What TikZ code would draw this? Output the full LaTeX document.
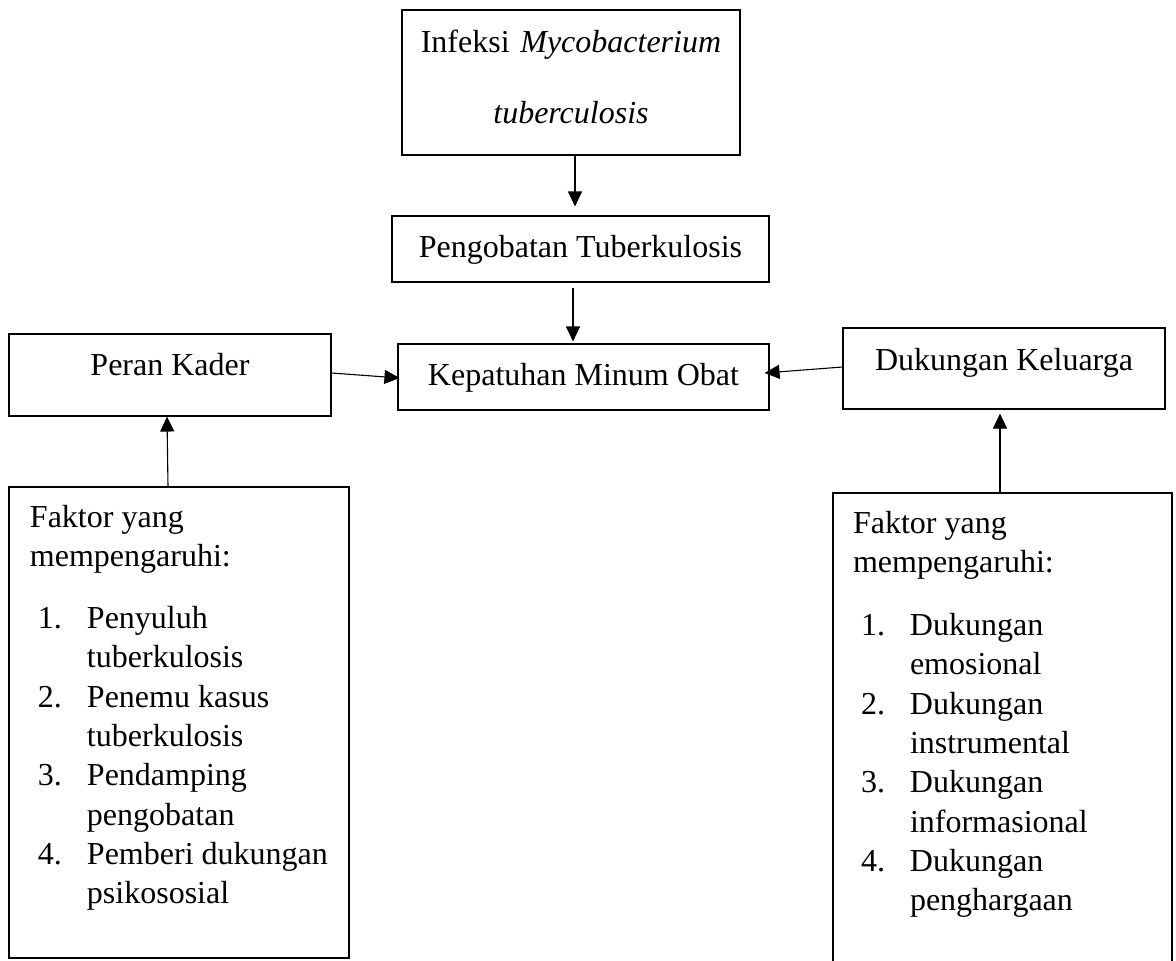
\documentclass[tikz,border=0pt]{standalone}
\usepackage{fontspec}
\setmainfont{Liberation Serif}
\usetikzlibrary{arrows.meta}

\newcommand{\butir}[3]{\hspace*{8pt}\makebox[49pt][l]{#1}\mbox{#2}\\\hspace*{57pt}\mbox{#3}}

\begin{document}
\begin{tikzpicture}
    [
    x = 1pt, y = -1pt,
    every node/.style = {font=\fontsize{32}{39.3}\selectfont},
    kotak/.style      = {rectangle, draw, line width=1.1pt, inner sep=0pt},
    daftar/.style     = {kotak, align=flush left, inner xsep=21pt, text width=298pt},
    panah/.style      = {-{Triangle[length=15pt,width=14pt]}, line width=1.1pt}
    ]
    \useasboundingbox (0,0) rectangle (1176,961);

    \node [kotak, text width=338pt, align=center, text height=42pt, text depth=103pt,
        font=\fontsize{32}{71}\selectfont] (infeksi) at (571,82.5)
        {Infeksi \textit{Mycobacterium}\\ \textit{tuberculosis}};
    \node [kotak, minimum width=377pt, text height=41pt, text depth=25pt] (pengobatan) at (580.5,249)
        {Pengobatan Tuberkulosis};
    \node [kotak, minimum width=371pt, text height=41pt, text depth=25pt] (kepatuhan) at (583.5,377)
        {Kepatuhan Minum Obat};
    \node [kotak, minimum width=322pt, text height=41pt, text depth=41pt] (kader) at (170,375)
        {Peran Kader};
    \node [kotak, minimum width=322pt, text height=42pt, text depth=39pt] (keluarga) at (1004,368.5)
        {Dukungan Keluarga};

    \node [daftar, text height=40pt, text depth=431pt] (faktorkader) at (179,722.5)
        {Faktor yang\\ mempengaruhi:\\[23pt]
        \butir{1.}{Penyuluh}{tuberkulosis}\\
        \butir{2.}{Penemu kasus}{tuberkulosis}\\
        \butir{3.}{Pendamping}{pengobatan}\\
        \butir{4.}{Pemberi dukungan}{psikososial}};
    \node [daftar, inner xsep=20pt, text width=299pt, text height=40pt, text depth=442pt]
        (faktorkeluarga) at (1002.5,734)
        {Faktor yang\\ mempengaruhi:\\[24pt]
        \butir{1.}{Dukungan}{emosional}\\
        \butir{2.}{Dukungan}{instrumental}\\
        \butir{3.}{Dukungan}{informasional}\\
        \butir{4.}{Dukungan}{penghargaan}};

    % panah antar kotak
    \draw [panah, shorten >=9pt] ([xshift=4pt]infeksi.south) -- ([xshift=-5.5pt]pengobatan.north);
    \draw [panah, shorten <=5pt, shorten >=2pt] ([xshift=-7.5pt]pengobatan.south) -- ([xshift=-10.5pt]kepatuhan.north);
    \draw [panah] ([yshift=2pt]kader.east) -- ([xshift=2pt,yshift=-1pt]kepatuhan.west);
    \draw [panah] ([yshift=1.5pt]keluarga.west) -- ([xshift=-5pt,yshift=4pt]kepatuhan.east);
    \draw [panah] ([xshift=-11pt]faktorkader.north) -- ([xshift=-3pt]kader.south);
    \draw [panah, shorten >=4pt] ([xshift=-2.5pt]faktorkeluarga.north) -- ([xshift=-4pt]keluarga.south);
\end{tikzpicture}
\end{document}
